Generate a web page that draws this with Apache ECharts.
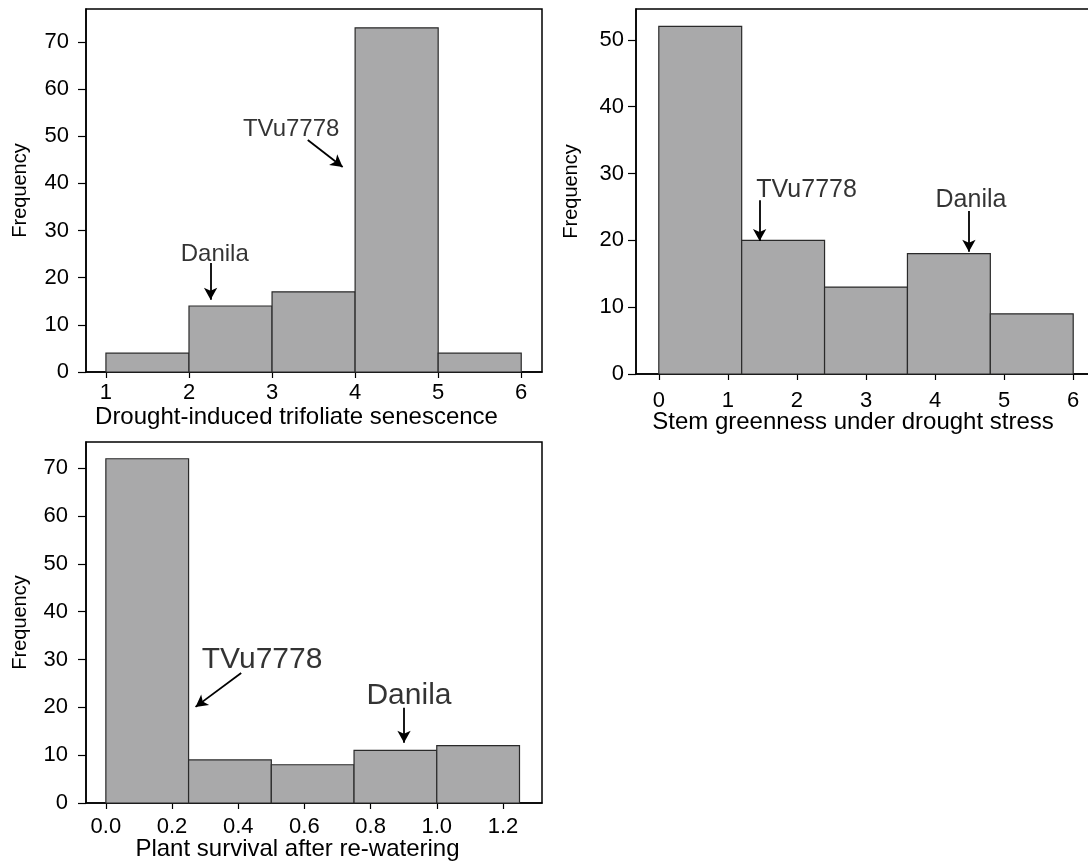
<!DOCTYPE html>
<html lang="en">
<head>
<meta charset="UTF-8">
<title>Drought tolerance histograms</title>
<script src="https://cdn.jsdelivr.net/npm/echarts@6/dist/echarts.min.js"></script>
<style>
  html, body { margin: 0; padding: 0; background: #fff; overflow: hidden; }
  #chart { width: 1088px; height: 862px; }
</style>
</head>
<body>
<div id="chart"></div>
<script>
  // --- data ---
  // panel 1: drought-induced trifoliate senescence
  var senesBinStart = [1, 2, 3, 4, 5];
  var senesBinEnd   = [2, 3, 4, 5, 6];
  var senesCounts   = [4, 14, 17, 73, 4];
  var senesTicks    = [1, 2, 3, 4, 5, 6];

  // panel 2: stem greenness under drought stress
  var stemBinStart = [0, 1.2, 2.4, 3.6, 4.8];
  var stemBinEnd   = [1.2, 2.4, 3.6, 4.8, 6.0];
  var stemCounts   = [52, 20, 13, 18, 9];
  var stemTicks    = [0, 1, 2, 3, 4, 5, 6];

  // panel 3: plant survival after re-watering
  var survBinStart = [0, 0.25, 0.5, 0.75, 1.0];
  var survBinEnd   = [0.25, 0.5, 0.75, 1.0, 1.25];
  var survCounts   = [72, 9, 8, 11, 12];
  var survTicks    = [0, 0.2, 0.4, 0.6, 0.8, 1.0, 1.2];

  var freqTicks70 = [0, 10, 20, 30, 40, 50, 60, 70];
  var freqTicks50 = [0, 10, 20, 30, 40, 50];

  // annotations: [x, y, text] and arrows [x1, y1, x2, y2]
  var senesNotes  = [[3.23, 51.4, 'TVu7778'], [2.31, 24.9, 'Danila']];
  var senesArrows = [[3.43, 49.2, 3.85, 43.5], [2.26, 23.1, 2.26, 15.3]];
  var stemNotes   = [[2.14, 27.5, 'TVu7778'], [4.52, 26.0, 'Danila']];
  var stemArrows  = [[1.46, 26.0, 1.46, 19.9], [4.49, 24.4, 4.49, 18.3]];
  var survNotes   = [[0.472, 29.9, 'TVu7778'], [0.916, 22.4, 'Danila']];
  var survArrows  = [[0.409, 27.2, 0.271, 20.1], [0.901, 19.9, 0.901, 12.6]];

  var FONT = "'Liberation Sans', Arial, sans-serif";

  function bins(starts, ends, counts) {
    return counts.map(function (c, i) { return [starts[i], ends[i], c]; });
  }

  function histSeries(idx, data) {
    return {
      type: 'custom',
      xAxisIndex: idx,
      yAxisIndex: idx,
      data: data,
      encode: { x: [0, 1], y: 2 },
      renderItem: function (params, api) {
        var p0 = api.coord([api.value(0), api.value(2)]);
        var p1 = api.coord([api.value(1), 0]);
        return {
          type: 'rect',
          shape: { x: p0[0], y: p0[1], width: p1[0] - p0[0], height: p1[1] - p0[1] },
          style: { fill: '#a9a9aa', stroke: '#2a2a2a', lineWidth: 1.2 }
        };
      }
    };
  }

  function noteSeries(idx, notes, arrows, fontSize) {
    return {
      type: 'scatter',
      xAxisIndex: idx,
      yAxisIndex: idx,
      symbolSize: 0,
      silent: true,
      data: notes,
      label: {
        show: true,
        position: 'inside',
        formatter: function (p) { return p.value[2]; },
        color: '#000',
        fontFamily: FONT,
        fontSize: fontSize
      },
      markLine: {
        silent: true,
        symbol: ['none', 'arrow'],
        symbolSize: [10, 12],
        label: { show: false },
        lineStyle: { color: '#000', width: 1.8, type: 'solid' },
        data: arrows.map(function (a) {
          return [{ coord: [a[0], a[1]] }, { coord: [a[2], a[3]] }];
        })
      }
    };
  }

  function xAxis(idx, min, max, ticks, name, padRight, labelMargin, nameGap, fmt) {
    return {
      type: 'value',
      gridIndex: idx,
      min: min,
      max: max,
      name: name,
      nameLocation: 'middle',
      nameGap: nameGap,
      nameMoveOverlap: false,
      nameTextStyle: { fontFamily: FONT, fontSize: 24, color: '#000', padding: [0, padRight, 0, 0] },
      splitLine: { show: false },
      axisLine: { onZero: false, lineStyle: { color: '#000', width: 1.5 } },
      axisTick: { length: 6, lineStyle: { color: '#000', width: 1.2 }, customValues: ticks },
      axisLabel: {
        customValues: ticks,
        margin: labelMargin,
        fontFamily: FONT,
        fontSize: 22,
        color: '#000',
        formatter: fmt
      }
    };
  }

  function yAxis(idx, max, ticks, labelMargin, nameGap) {
    return {
      type: 'value',
      gridIndex: idx,
      min: 0,
      max: max,
      name: 'Frequency',
      nameLocation: 'middle',
      nameGap: nameGap,
      nameMoveOverlap: false,
      nameTextStyle: { fontFamily: FONT, fontSize: 20, color: '#000' },
      splitLine: { show: false },
      axisLine: { onZero: false, lineStyle: { color: '#000', width: 1.5 } },
      axisTick: { length: 8, lineStyle: { color: '#000', width: 1.2 }, customValues: ticks },
      axisLabel: {
        customValues: ticks,
        margin: labelMargin,
        fontFamily: FONT,
        fontSize: 22,
        color: '#000'
      }
    };
  }

  var gridStyle = {
    show: true,
    borderColor: '#000',
    borderWidth: 1.5,
    backgroundColor: 'transparent',
    containLabel: false,
    outerBoundsMode: 'none'
  };

  var chart = echarts.init(document.getElementById('chart'));

  chart.setOption({
    animation: false,
    backgroundColor: '#fff',
    grid: [
      Object.assign({ left: 86, top: 9, width: 456, height: 363 }, gridStyle),
      Object.assign({ left: 636, top: 9, width: 460, height: 365 }, gridStyle),
      Object.assign({ left: 86, top: 442, width: 456, height: 361 }, gridStyle)
    ],
    xAxis: [
      xAxis(0, 0.76, 6.25, senesTicks, 'Drought-induced trifoliate senescence', 35, 10, 33,
        function (v) { return String(v); }),
      xAxis(1, -0.33, 6.33, stemTicks, 'Stem greenness under drought stress', 26, 16, 36,
        function (v) { return String(v); }),
      xAxis(2, -0.06, 1.318, survTicks, 'Plant survival after re-watering', 33, 13, 34,
        function (v) { return v.toFixed(1); })
    ],
    yAxis: [
      yAxis(0, 77, freqTicks70, 17, 56),
      yAxis(1, 54.6, freqTicks50, 12, 55),
      yAxis(2, 75.5, freqTicks70, 18, 56)
    ],
    series: [
      histSeries(0, bins(senesBinStart, senesBinEnd, senesCounts)),
      histSeries(1, bins(stemBinStart, stemBinEnd, stemCounts)),
      histSeries(2, bins(survBinStart, survBinEnd, survCounts)),
      noteSeries(0, senesNotes, senesArrows, 24),
      noteSeries(1, stemNotes, stemArrows, 25),
      noteSeries(2, survNotes, survArrows, 30)
    ]
  });
</script>
</body>
</html>
